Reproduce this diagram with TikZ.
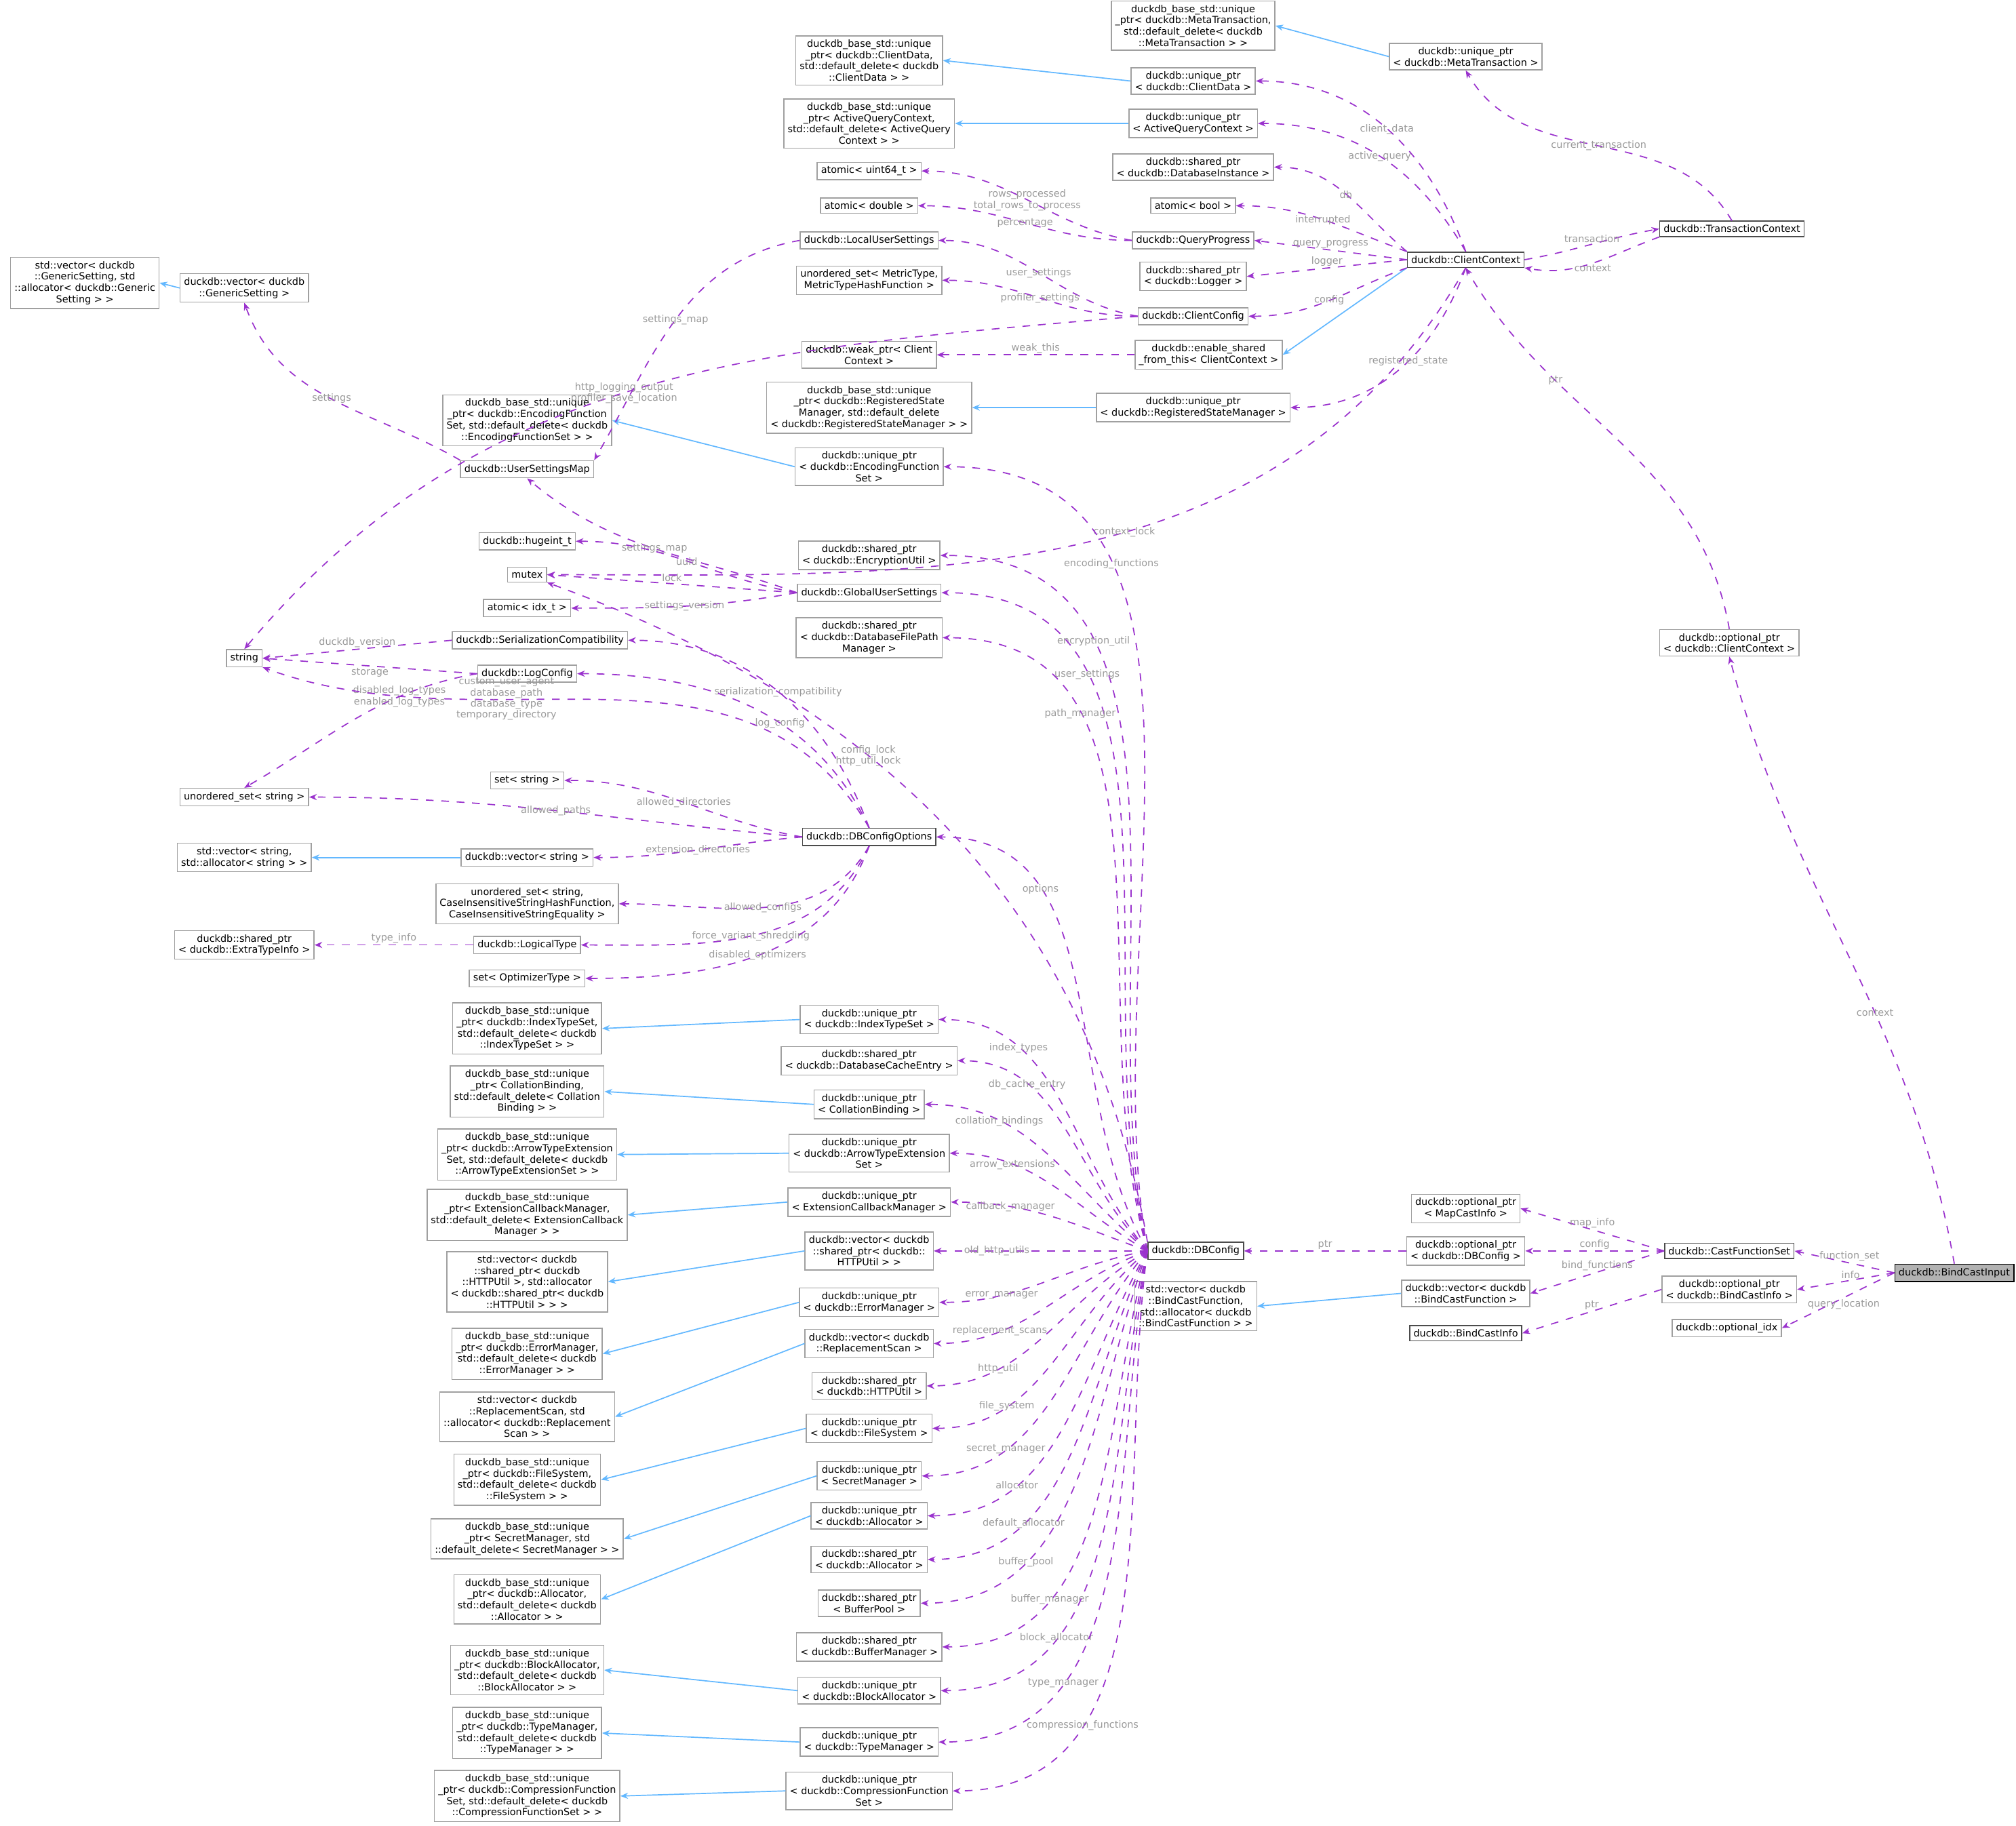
\documentclass[tikz,border=0pt]{standalone}
\usepackage{fontspec}
\setmainfont{DejaVu Sans}
\usetikzlibrary{arrows.meta}
\definecolor{memcol}{HTML}{9A32CD}
\definecolor{inhcol}{HTML}{63B8FF}
\definecolor{lblcol}{HTML}{9A9A9A}
\definecolor{boxcol}{HTML}{A0A0A0}
\tikzset{
  box/.style={draw=boxcol, line width=0.4pt, inner sep=1.5pt, align=center, font=\fontsize{3.8}{4.4}\selectfont},
  mem/.style={draw=memcol, dashed, line width=0.45pt, -{Stealth[length=3pt,width=2.4pt]}},
  inh/.style={draw=inhcol, line width=0.45pt, -{Stealth[length=3pt,width=2.4pt]}},
  lbl/.style={text=lblcol, align=center, font=\fontsize{3.8}{4.3}\selectfont, inner sep=0.5pt},
}
\begin{document}
\begin{tikzpicture}[x=0.5pt,y=-0.5pt]
\useasboundingbox (0,0) rectangle (1568,1420);

% right part
\node[box, draw=black, fill=gray!60] (bci) at (1520,990) {duckdb::BindCastInput};
\node[box, draw=black!70] (cfs) at (1345,973) {duckdb::CastFunctionSet};
\node[box] (opbci) at (1345,1003) {duckdb::optional\_ptr\\< duckdb::BindCastInfo >};
\node[box] (oidx) at (1343,1033) {duckdb::optional\_idx};
\node[box] (opcc) at (1345,500) {duckdb::optional\_ptr\\< duckdb::ClientContext >};
\node[box, draw=black!70] (tctx) at (1347,178) {duckdb::TransactionContext};
\node[box] (upmt) at (1140,44) {duckdb::unique\_ptr\\< duckdb::MetaTransaction >};
\node[box] (bsmt) at (928,20) {duckdb\_base\_std::unique\\\_ptr< duckdb::MetaTransaction,\\ std::default\_delete< duckdb\\::MetaTransaction > >};
\node[box, draw=black!70] (cctx) at (1140,202) {duckdb::ClientContext};
\node[box] (opmci) at (1140,940) {duckdb::optional\_ptr\\< MapCastInfo >};
\node[box] (opdbc) at (1140,973) {duckdb::optional\_ptr\\< duckdb::DBConfig >};
\node[box] (vbcf) at (1140,1006) {duckdb::vector< duckdb\\::BindCastFunction >};
\node[box, draw=black!70] (bcinfo) at (1140,1037) {duckdb::BindCastInfo};
\node[box] (svbcf) at (930,1016) {std::vector< duckdb\\::BindCastFunction,\\ std::allocator< duckdb\\::BindCastFunction > >};
\node[box, draw=black!70] (dbc) at (930,973) {duckdb::DBConfig};

% client context members
\node[box] (upcd) at (928,63) {duckdb::unique\_ptr\\< duckdb::ClientData >};
\node[box] (bscd) at (676,47) {duckdb\_base\_std::unique\\\_ptr< duckdb::ClientData,\\ std::default\_delete< duckdb\\::ClientData > >};
\node[box] (upaqc) at (928,96) {duckdb::unique\_ptr\\< ActiveQueryContext >};
\node[box] (bsaqc) at (676,96) {duckdb\_base\_std::unique\\\_ptr< ActiveQueryContext,\\ std::default\_delete< ActiveQuery\\Context > >};
\node[box] (spdi) at (928,130) {duckdb::shared\_ptr\\< duckdb::DatabaseInstance >};
\node[box] (atbool) at (928,160) {atomic< bool >};
\node[box] (qprog) at (928,187) {duckdb::QueryProgress};
\node[box] (atu64) at (676,133) {atomic< uint64\_t >};
\node[box] (atdbl) at (676,160) {atomic< double >};
\node[box] (splog) at (928,215) {duckdb::shared\_ptr\\< duckdb::Logger >};
\node[box] (ccfg) at (928,246) {duckdb::ClientConfig};
\node[box] (lus) at (676,187) {duckdb::LocalUserSettings};
\node[box] (usmet) at (676,218) {unordered\_set< MetricType,\\ MetricTypeHashFunction >};
\node[box] (wpcc) at (676,276) {duckdb::weak\_ptr< Client\\Context >};
\node[box] (esft) at (940,276) {duckdb::enable\_shared\\\_from\_this< ClientContext >};
\node[box] (bsrsm) at (676,317) {duckdb\_base\_std::unique\\\_ptr< duckdb::RegisteredState\\Manager, std::default\_delete\\< duckdb::RegisteredStateManager > >};
\node[box] (uprsm) at (928,317) {duckdb::unique\_ptr\\< duckdb::RegisteredStateManager >};
\node[box] (bsefs) at (410,327) {duckdb\_base\_std::unique\\\_ptr< duckdb::EncodingFunction\\Set, std::default\_delete< duckdb\\::EncodingFunctionSet > >};
\node[box] (upefs) at (676,363) {duckdb::unique\_ptr\\< duckdb::EncodingFunction\\Set >};
\node[box] (usm) at (410,365) {duckdb::UserSettingsMap};
\node[box] (vgs) at (190,224) {duckdb::vector< duckdb\\::GenericSetting >};
\node[box] (svgs) at (66,220) {std::vector< duckdb\\::GenericSetting, std\\::allocator< duckdb::Generic\\Setting > >};
\node[box] (str) at (190,512) {string};
\node[box] (huge) at (410,421) {duckdb::hugeint\_t};
\node[box] (mtx) at (410,447) {mutex};
\node[box] (atidx) at (410,473) {atomic< idx\_t >};
\node[box] (sercomp) at (420,498) {duckdb::SerializationCompatibility};
\node[box] (logcfg) at (410,524) {duckdb::LogConfig};
\node[box] (spenc) at (676,432) {duckdb::shared\_ptr\\< duckdb::EncryptionUtil >};
\node[box] (gus) at (676,461) {duckdb::GlobalUserSettings};
\node[box] (spdfpm) at (676,496) {duckdb::shared\_ptr\\< duckdb::DatabaseFilePath\\Manager >};

% options
\node[box] (usstr) at (190,620) {unordered\_set< string >};
\node[box] (setstr) at (410,607) {set< string >};
\node[box, draw=black!70] (dbco) at (676,651) {duckdb::DBConfigOptions};
\node[box] (svstr) at (190,667) {std::vector< string,\\ std::allocator< string > >};
\node[box] (vstr) at (410,667) {duckdb::vector< string >};
\node[box] (uscis) at (410,703) {unordered\_set< string,\\ CaseInsensitiveStringHashFunction,\\ CaseInsensitiveStringEquality >};
\node[box] (speti) at (190,735) {duckdb::shared\_ptr\\< duckdb::ExtraTypeInfo >};
\node[box] (ltype) at (410,735) {duckdb::LogicalType};
\node[box] (setopt) at (410,761) {set< OptimizerType >};

% db config members
\node[box] (bsits) at (410,800) {duckdb\_base\_std::unique\\\_ptr< duckdb::IndexTypeSet,\\ std::default\_delete< duckdb\\::IndexTypeSet > >};
\node[box] (upits) at (676,793) {duckdb::unique\_ptr\\< duckdb::IndexTypeSet >};
\node[box] (spdce) at (676,825) {duckdb::shared\_ptr\\< duckdb::DatabaseCacheEntry >};
\node[box] (bscb) at (410,849) {duckdb\_base\_std::unique\\\_ptr< CollationBinding,\\ std::default\_delete< Collation\\Binding > >};
\node[box] (upcb) at (676,859) {duckdb::unique\_ptr\\< CollationBinding >};
\node[box] (bsate) at (410,898) {duckdb\_base\_std::unique\\\_ptr< duckdb::ArrowTypeExtension\\Set, std::default\_delete< duckdb\\::ArrowTypeExtensionSet > >};
\node[box] (upate) at (676,897) {duckdb::unique\_ptr\\< duckdb::ArrowTypeExtension\\Set >};
\node[box] (bsecm) at (410,945) {duckdb\_base\_std::unique\\\_ptr< ExtensionCallbackManager,\\ std::default\_delete< ExtensionCallback\\Manager > >};
\node[box] (upecm) at (676,935) {duckdb::unique\_ptr\\< ExtensionCallbackManager >};
\node[box] (vhttp) at (676,973) {duckdb::vector< duckdb\\::shared\_ptr< duckdb::\\HTTPUtil > >};
\node[box] (svhttp) at (410,997) {std::vector< duckdb\\::shared\_ptr< duckdb\\::HTTPUtil >, std::allocator\\< duckdb::shared\_ptr< duckdb\\::HTTPUtil > > >};
\node[box] (upem) at (676,1013) {duckdb::unique\_ptr\\< duckdb::ErrorManager >};
\node[box] (bsem) at (410,1053) {duckdb\_base\_std::unique\\\_ptr< duckdb::ErrorManager,\\ std::default\_delete< duckdb\\::ErrorManager > >};
\node[box] (vrs) at (676,1045) {duckdb::vector< duckdb\\::ReplacementScan >};
\node[box] (svrs) at (410,1102) {std::vector< duckdb\\::ReplacementScan, std\\::allocator< duckdb::Replacement\\Scan > >};
\node[box] (sphttp) at (676,1078) {duckdb::shared\_ptr\\< duckdb::HTTPUtil >};
\node[box] (upfs) at (676,1111) {duckdb::unique\_ptr\\< duckdb::FileSystem >};
\node[box] (bsfs) at (410,1151) {duckdb\_base\_std::unique\\\_ptr< duckdb::FileSystem,\\ std::default\_delete< duckdb\\::FileSystem > >};
\node[box] (upsm) at (676,1148) {duckdb::unique\_ptr\\< SecretManager >};
\node[box] (bssm) at (410,1197) {duckdb\_base\_std::unique\\\_ptr< SecretManager, std\\::default\_delete< SecretManager > >};
\node[box] (upal) at (676,1179) {duckdb::unique\_ptr\\< duckdb::Allocator >};
\node[box] (spal) at (676,1213) {duckdb::shared\_ptr\\< duckdb::Allocator >};
\node[box] (bsal) at (410,1244) {duckdb\_base\_std::unique\\\_ptr< duckdb::Allocator,\\ std::default\_delete< duckdb\\::Allocator > >};
\node[box] (spbp) at (676,1247) {duckdb::shared\_ptr\\< BufferPool >};
\node[box] (spbm) at (676,1281) {duckdb::shared\_ptr\\< duckdb::BufferManager >};
\node[box] (upba) at (676,1315) {duckdb::unique\_ptr\\< duckdb::BlockAllocator >};
\node[box] (bsba) at (410,1299) {duckdb\_base\_std::unique\\\_ptr< duckdb::BlockAllocator,\\ std::default\_delete< duckdb\\::BlockAllocator > >};
\node[box] (uptm) at (676,1355) {duckdb::unique\_ptr\\< duckdb::TypeManager >};
\node[box] (bstm) at (410,1348) {duckdb\_base\_std::unique\\\_ptr< duckdb::TypeManager,\\ std::default\_delete< duckdb\\::TypeManager > >};
\node[box] (upcf) at (676,1393) {duckdb::unique\_ptr\\< duckdb::CompressionFunction\\Set >};
\node[box] (bscf) at (410,1397) {duckdb\_base\_std::unique\\\_ptr< duckdb::CompressionFunction\\Set, std::default\_delete< duckdb\\::CompressionFunctionSet > >};

% inheritance
\foreach \d/\b in {upmt/bsmt, vbcf/svbcf, upcd/bscd, upaqc/bsaqc, uprsm/bsrsm, upefs/bsefs, vgs/svgs, vstr/svstr,
  upits/bsits, upcb/bscb, upate/bsate, upecm/bsecm, vhttp/svhttp, upem/bsem, vrs/svrs, upfs/bsfs, upsm/bssm,
  upal/bsal, upba/bsba, uptm/bstm, upcf/bscf}
  \draw[inh] (\d.west) -- (\b.east);
\draw[inh] (cctx.south west) -- (esft.east);

% members of BindCastInput and friends
\draw[mem] (bci.west) -- node[lbl, above, pos=0.45] {function\_set} (cfs.east);
\draw[mem] (bci.west) -- node[lbl, above, pos=0.45] {info} (opbci.east);
\draw[mem] (bci.west) -- node[lbl, below, pos=0.45] {query\_location} (oidx.east);
\draw[mem] (bci.north) to[out=100,in=-75] node[lbl, pos=0.4] {context} (opcc.south);
\draw[mem] (opcc.north) to[out=100,in=-60] node[lbl, pos=0.7] {ptr} (cctx.south);
\draw[mem] (cfs.west) -- node[lbl, above] {map\_info} (opmci.east);
\draw[mem] (cfs.west) -- node[lbl, above] {config} (opdbc.east);
\draw[mem] (cfs.west) -- node[lbl, above] {bind\_functions} (vbcf.east);
\draw[mem] (opbci.west) -- node[lbl, above] {ptr} (bcinfo.east);
\draw[mem] (opdbc.west) -- node[lbl, above] {ptr} (dbc.east);

% client context
\draw[mem] (cctx.east) to[out=10,in=190] node[lbl, above] {transaction} (tctx.west);
\draw[mem] (tctx.south west) to[out=200,in=-10] node[lbl, below] {context} (cctx.south east);
\draw[mem] (tctx.north) to[out=120,in=-60] node[lbl, pos=0.5] {current\_transaction} (upmt.south);
\draw[mem] (cctx.north) to[out=110,in=0] node[lbl, pos=0.5] {client\_data} (upcd.east);
\draw[mem] (cctx.north) to[out=120,in=0] node[lbl, pos=0.5] {active\_query} (upaqc.east);
\draw[mem] (cctx.north west) to[out=140,in=0] node[lbl, pos=0.5] {db} (spdi.east);
\draw[mem] (cctx.north west) to[out=160,in=0] node[lbl, pos=0.5] {interrupted} (atbool.east);
\draw[mem] (cctx.west) -- node[lbl, above] {query\_progress} (qprog.east);
\draw[mem] (cctx.west) -- node[lbl, above] {logger} (splog.east);
\draw[mem] (cctx.south west) to[out=200,in=0] node[lbl, pos=0.5] {config} (ccfg.east);
\draw[mem] (cctx.south) to[out=-110,in=0] node[lbl, pos=0.45] {registered\_state} (uprsm.east);
\draw[mem] (cctx.south) to[out=-120,in=0] node[lbl, pos=0.45] {context\_lock} (mtx.east);
\draw[mem] (qprog.west) to[out=170,in=0] node[lbl, pos=0.5] {rows\_processed\\total\_rows\_to\_process} (atu64.east);
\draw[mem] (qprog.west) to[out=180,in=0] node[lbl, pos=0.5] {percentage} (atdbl.east);
\draw[mem] (ccfg.west) to[out=170,in=0] node[lbl, pos=0.5] {user\_settings} (lus.east);
\draw[mem] (ccfg.west) to[out=180,in=0] node[lbl, pos=0.5] {profiler\_settings} (usmet.east);
\draw[mem] (ccfg.west) to[out=185,in=50] node[lbl, pos=0.52] {http\_logging\_output\\profiler\_save\_location} (str.north);
\draw[mem] (esft.west) -- node[lbl, above] {weak\_this} (wpcc.east);
\draw[mem] (lus.west) to[out=190,in=60] node[lbl, pos=0.5] {settings\_map} (usm.north east);
\draw[mem] (usm.north west) to[out=150,in=-70] node[lbl, pos=0.5] {settings} (vgs.south);

% global user settings and others
\draw[mem] (gus.west) to[out=160,in=-40] node[lbl, pos=0.5] {settings\_map} (usm.south);
\draw[mem] (gus.west) to[out=170,in=0] node[lbl, pos=0.5] {uuid} (huge.east);
\draw[mem] (gus.west) -- node[lbl, above] {lock} (mtx.east);
\draw[mem] (gus.west) to[out=190,in=0] node[lbl, pos=0.5] {settings\_version} (atidx.east);
\draw[mem] (sercomp.west) -- node[lbl, above] {duckdb\_version} (str.east);
\draw[mem] (logcfg.west) -- node[lbl, below] {storage} (str.east);
\draw[mem] (logcfg.west) to[out=190,in=30] node[lbl, pos=0.3] {disabled\_log\_types\\enabled\_log\_types} (usstr.north);

% options
\draw[mem] (dbco.north) to[out=120,in=-20] node[lbl, pos=0.65] {custom\_user\_agent\\database\_path\\database\_type\\temporary\_directory} (str.south east);
\draw[mem] (dbco.north) to[out=110,in=0] node[lbl, pos=0.5] {serialization\_compatibility} (sercomp.east);
\draw[mem] (dbco.north) to[out=115,in=0] node[lbl, pos=0.4] {log\_config} (logcfg.east);
\draw[mem] (dbco.west) to[out=170,in=0] node[lbl, pos=0.5] {allowed\_directories} (setstr.east);
\draw[mem] (dbco.west) to[out=175,in=0] node[lbl, pos=0.5] {allowed\_paths} (usstr.east);
\draw[mem] (dbco.west) to[out=185,in=0] node[lbl, pos=0.5] {extension\_directories} (vstr.east);
\draw[mem] (dbco.south) to[out=-120,in=0] node[lbl, pos=0.5] {allowed\_configs} (uscis.east);
\draw[mem] (dbco.south) to[out=-115,in=0] node[lbl, pos=0.5] {force\_variant\_shredding} (ltype.east);
\draw[mem] (dbco.south) to[out=-110,in=0] node[lbl, pos=0.5] {disabled\_optimizers} (setopt.east);
\draw[mem] (ltype.west) -- node[lbl, above] {type\_info} (speti.east);

% db config members
\foreach \t/\l/\o in {upefs/{encoding\_functions}/100, spenc/{encryption\_util}/102, gus/{user\_settings}/104,
  spdfpm/{path\_manager}/106, dbco/{options}/120, upits/{index\_types}/130, spdce/{db\_cache\_entry}/135,
  upcb/{collation\_bindings}/140, upate/{arrow\_extensions}/150, upecm/{callback\_manager}/160,
  vhttp/{old\_http\_utils}/180, upem/{error\_manager}/190, vrs/{replacement\_scans}/200, sphttp/{http\_util}/210,
  upfs/{file\_system}/220, upsm/{secret\_manager}/230, upal/{allocator}/240, spal/{default\_allocator}/245,
  spbp/{buffer\_pool}/250, spbm/{buffer\_manager}/255, upba/{block\_allocator}/258, uptm/{type\_manager}/260,
  upcf/{compression\_functions}/262}
  \draw[mem] (dbc.west) to[out=\o,in=0] node[lbl, pos=0.72] {\l} (\t.east);
\draw[mem] (dbc.north west) to[out=100,in=-20] node[lbl, pos=0.62] {config\_lock\\http\_util\_lock} (mtx.south east);
\end{tikzpicture}
\end{document}
